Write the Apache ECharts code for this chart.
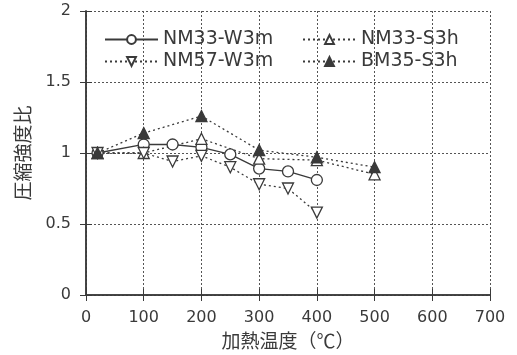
<!DOCTYPE html>
<html><head><meta charset="utf-8">
<script src="https://cdn.jsdelivr.net/npm/echarts@6/dist/echarts.min.js"></script>
<style>html,body{margin:0;padding:0;background:#fff}#c{width:517px;height:355px}</style>
</head><body><div id="c"></div>
<script>
var temps = [20, 100, 150, 200, 250, 300, 350, 400, 500];
var nm33w3m = [[20,1.0],[100,1.06],[150,1.06],[200,1.04],[250,0.99],[300,0.89],[350,0.87],[400,0.81]];
var nm57w3m = [[20,1.0],[100,1.0],[150,0.94],[200,0.98],[250,0.9],[300,0.78],[350,0.75],[400,0.58]];
var nm33s3h = [[20,1.0],[100,1.0],[200,1.1],[300,0.96],[400,0.95],[500,0.85]];
var bm35s3h = [[20,1.0],[100,1.14],[200,1.26],[300,1.02],[400,0.97],[500,0.9]];
var xTicks = [0,100,200,300,400,500,600,700];
var yTicks = [0,0.5,1,1.5,2];
var C = '#3a3a3a';
var font = 'DejaVu Sans, sans-serif';
var cjk = 'Noto Sans CJK JP, sans-serif';
function ser(name, data, symbol, rot, fill, type) {
  return {name:name, type:'line', data:data, symbol:symbol, symbolRotate:rot, symbolSize:11,
    lineStyle:{color:C, width:1.3, type:type},
    itemStyle:{color:fill, borderColor:C, borderWidth:1.3}, z: 3};
}
var chart = echarts.init(document.getElementById('c'));
chart.setOption({
  animation:false,
  backgroundColor:'#fff',
  grid:{left:86, right:27, top:11, bottom:60},
  legend:[
    {data:['NM33-W3m','NM57-W3m'], orient:'vertical', left:104, top:30, itemWidth:53, itemHeight:11, itemGap:3,
     textStyle:{color:C, fontSize:19, fontFamily:font}, padding:0},
    {data:['NM33-S3h','BM35-S3h'], orient:'vertical', left:302, top:30, itemWidth:53, itemHeight:11, itemGap:3,
     textStyle:{color:C, fontSize:19, fontFamily:font}, padding:0}
  ],
  xAxis:[{type:'value', min:0, max:700, interval:100, name:'加熱温度（℃）', nameLocation:'middle', nameGap:36,
    nameTextStyle:{color:C, fontSize:19, fontFamily:cjk},
    axisLine:{lineStyle:{color:C, width:1.5}}, axisTick:{inside:true, length:6, lineStyle:{color:C}},
    axisLabel:{color:C, fontSize:16, fontFamily:font, margin:15},
    splitLine:{show:true, lineStyle:{color:'#555', type:[2,2], width:1}}},
    {type:'value', min:0, max:700, interval:100, position:'top',
    axisLine:{show:true, lineStyle:{color:C, width:1.5}}, axisTick:{inside:true, length:6, lineStyle:{color:C}},
    axisLabel:{show:false}, splitLine:{show:false}}],
  yAxis:[{type:'value', min:0, max:2, interval:0.5, name:'圧縮強度比', nameLocation:'middle', nameGap:54, nameRotate:90,
    nameTextStyle:{color:C, fontSize:19, fontFamily:cjk},
    axisLine:{show:true, lineStyle:{color:C, width:1.5}}, axisTick:{inside:true, length:6, lineStyle:{color:C}},
    axisLabel:{color:C, fontSize:16, fontFamily:font, margin:15},
    splitLine:{show:true, lineStyle:{color:'#555', type:[2,2], width:1}}},
    {type:'value', min:0, max:2, interval:0.5, position:'right',
    axisLine:{show:true, lineStyle:{color:C, width:1.5}}, axisTick:{inside:true, length:6, lineStyle:{color:C}},
    axisLabel:{show:false}, splitLine:{show:false}}],
  series:[
    ser('NM33-W3m', nm33w3m, 'circle', 0, '#fff', 'solid'),
    ser('NM33-S3h', nm33s3h, 'triangle', 0, '#fff', [2,3]),
    ser('NM57-W3m', nm57w3m, 'triangle', 180, '#fff', [2,3]),
    ser('BM35-S3h', bm35s3h, 'triangle', 0, C, [2,3])
  ]
});
</script></body></html>
